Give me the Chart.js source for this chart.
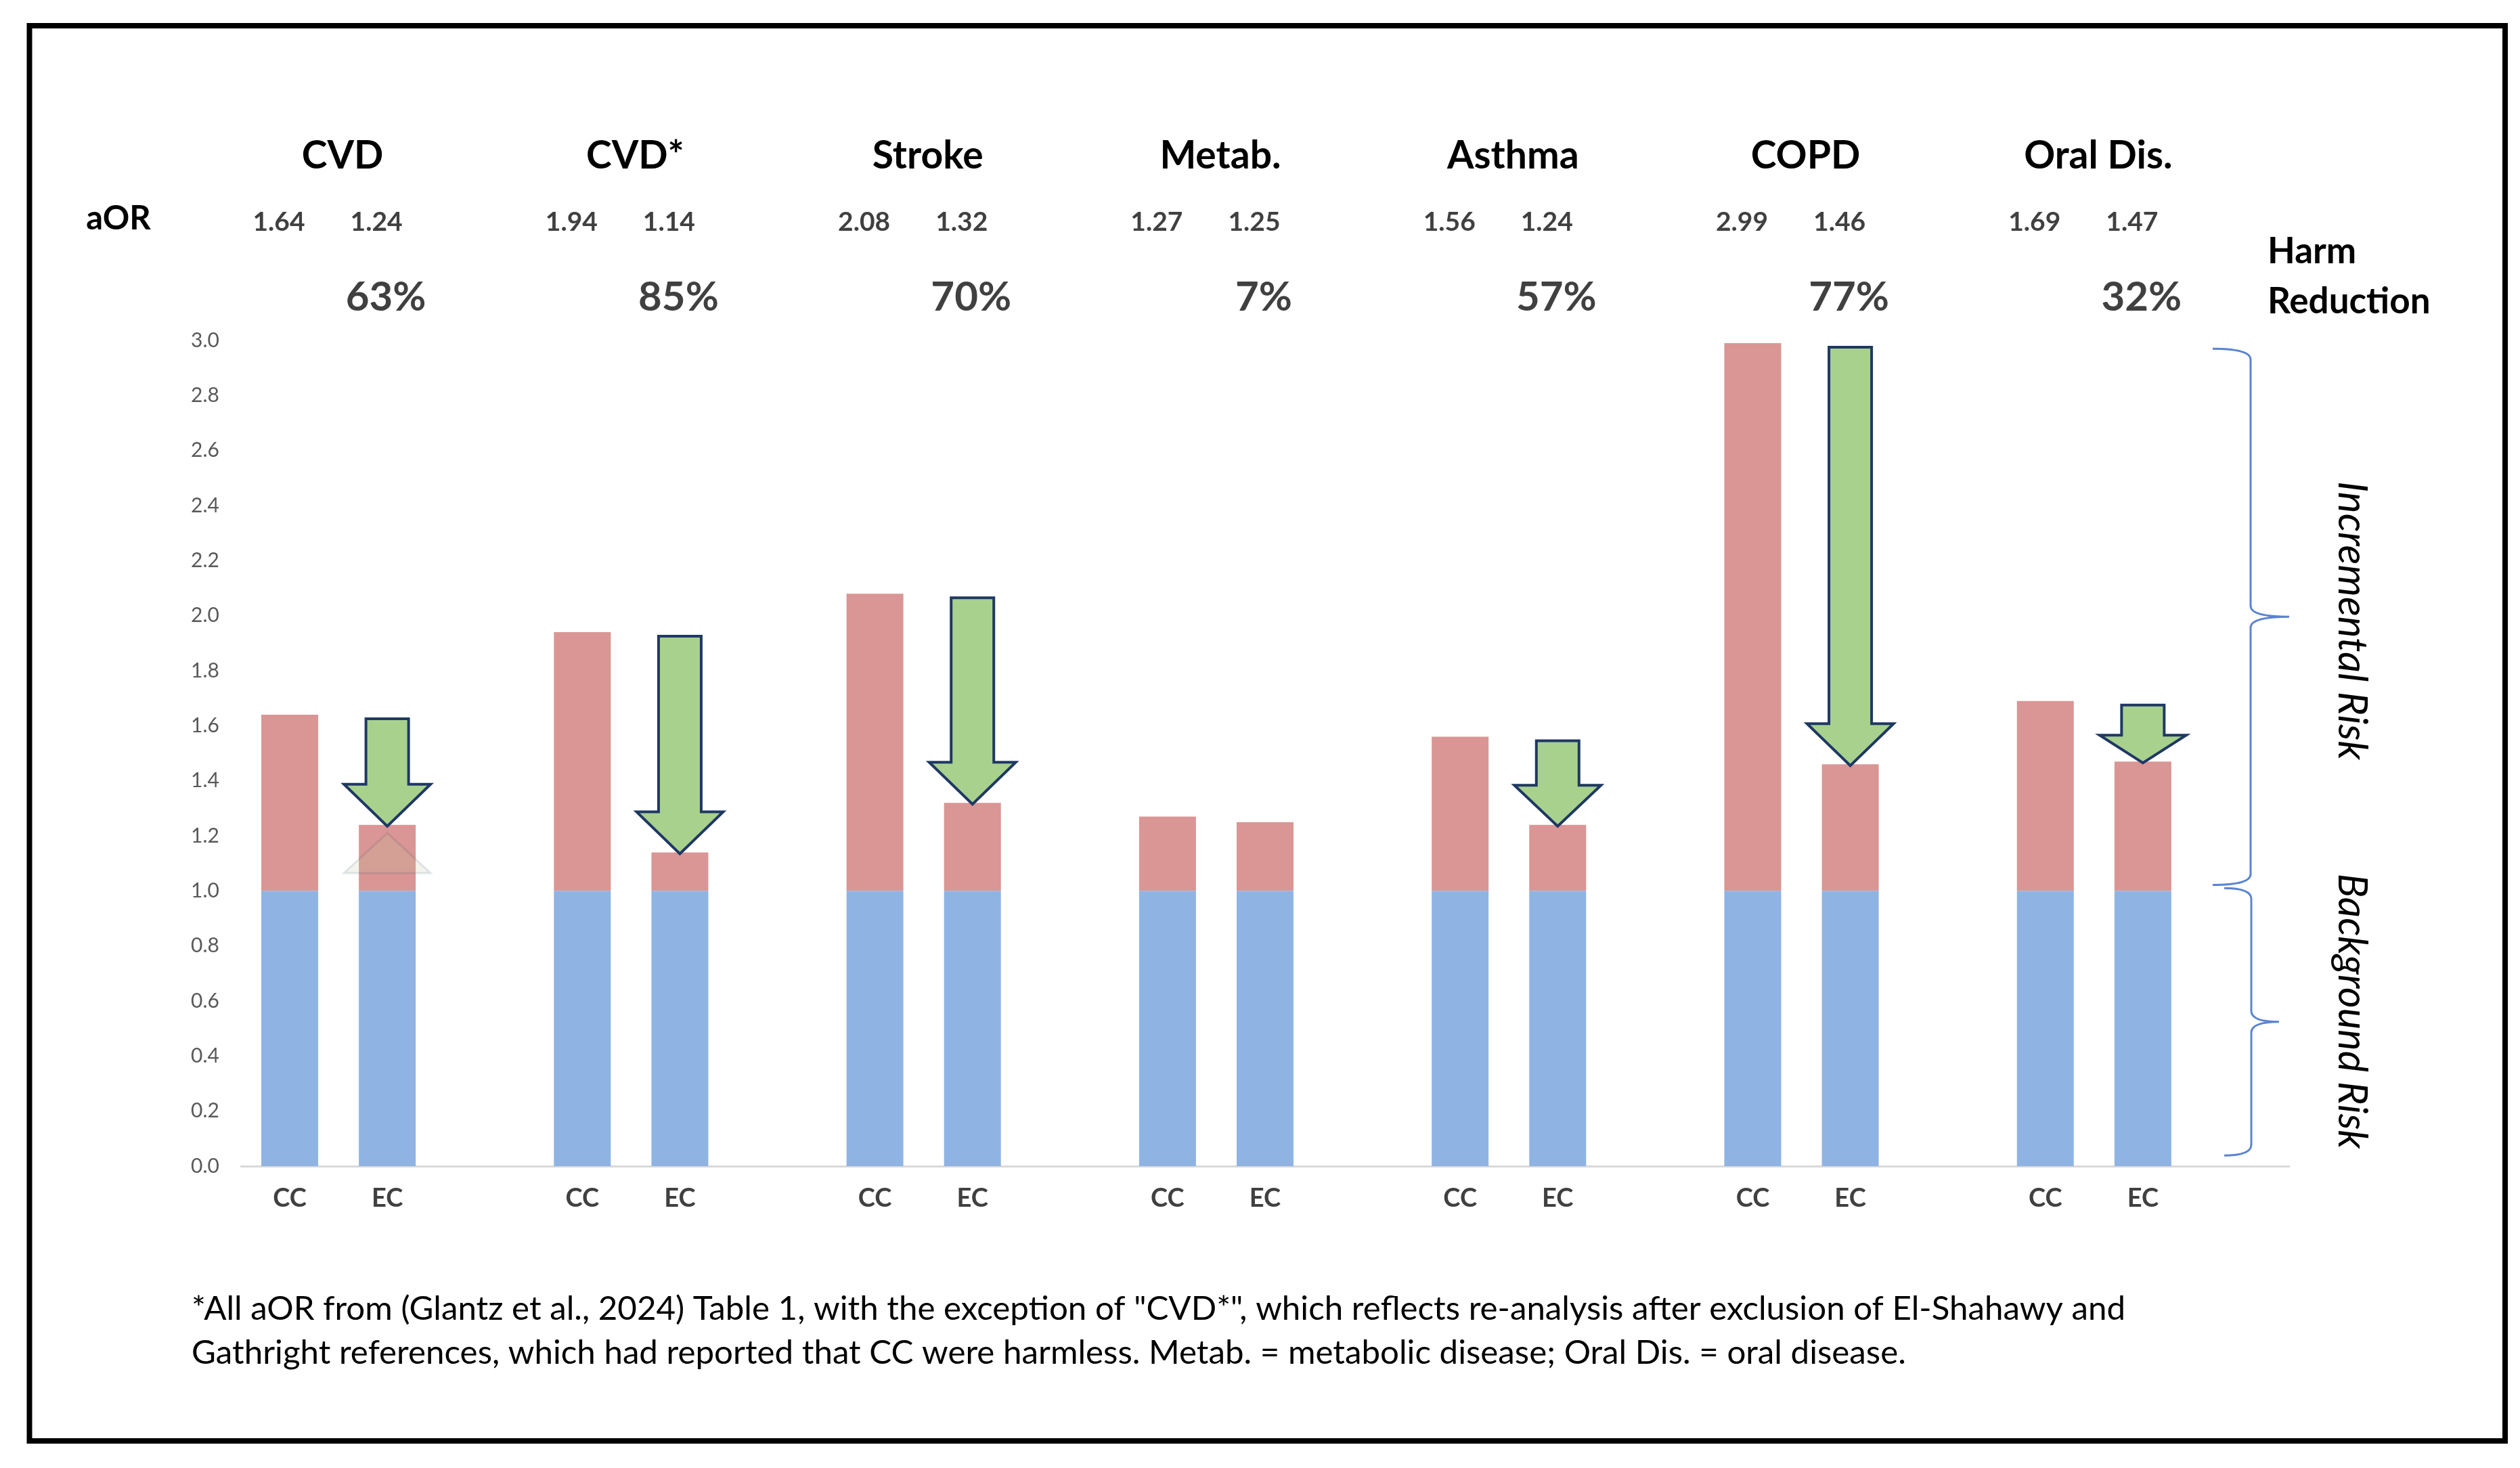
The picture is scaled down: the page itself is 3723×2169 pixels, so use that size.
<!DOCTYPE html>
<html>
<head>
<meta charset="utf-8">
<script src="https://cdn.jsdelivr.net/npm/chart.js@4.4.1/dist/chart.umd.min.js"></script>
<style>
  html, body { margin: 0; padding: 0; background: #fff; }
  canvas { display: block; }
</style>
</head>
<body>
<canvas id="riskChart" width="3723" height="2169"></canvas>
<script>
/* DATA */
const diseases = ['CVD', 'CVD*', 'Stroke', 'Metab.', 'Asthma', 'COPD', 'Oral Dis.'];
const ccAOR = [1.64, 1.94, 2.08, 1.27, 1.56, 2.99, 1.69];
const ecAOR = [1.24, 1.14, 1.32, 1.25, 1.24, 1.46, 1.47];
const harmReduction = ['63%', '85%', '70%', '7%', '57%', '77%', '32%'];
const showArrow = [true, true, true, false, true, true, true];
const productLabels = ['CC', 'EC'];
const backgroundRisk = 1.0;
const yMax = 3.0;
const yStep = 0.2;
const footnote = [
  '*All aOR from (Glantz et al., 2024) Table 1, with the exception of "CVD*", which reflects re-analysis after exclusion of El-Shahawy and',
  'Gathright references, which had reported that CC were harmless. Metab. = metabolic disease; Oral Dis. = oral disease.'
];

/* build the 21 slots: CC, EC, gap for each disease */
const labels = [], bgData = [], incData = [];
diseases.forEach((d, i) => {
  labels.push(productLabels[0], productLabels[1], '');
  bgData.push(backgroundRisk, backgroundRisk, null);
  incData.push(ccAOR[i] - backgroundRisk, ecAOR[i] - backgroundRisk, null);
});

const FONT = 'Lato, "Open Sans", sans-serif';

function fitFont(ctx, text, width, weight, style) {
  ctx.font = `${style || ''} ${weight} 100px ${FONT}`;
  const w = ctx.measureText(text).width;
  return 100 * width / w;
}

function drawArrow(ctx, cx, top, tip) {
  const len = tip - top;
  const head = Math.min(62, len * 0.48);
  const sw = 31.5, hw = 64;
  ctx.beginPath();
  ctx.moveTo(cx - sw, top);
  ctx.lineTo(cx + sw, top);
  ctx.lineTo(cx + sw, tip - head);
  ctx.lineTo(cx + hw, tip - head);
  ctx.lineTo(cx, tip);
  ctx.lineTo(cx - hw, tip - head);
  ctx.lineTo(cx - sw, tip - head);
  ctx.closePath();
  ctx.fillStyle = '#A9D18E';
  ctx.fill();
  ctx.lineWidth = 4;
  ctx.lineJoin = 'miter';
  ctx.strokeStyle = '#1F3864';
  ctx.stroke();
}

function drawBrace(ctx, x, curlX, tipX, yTop, yBot) {
  const mid = (yTop + yBot) / 2, r = 16;
  ctx.beginPath();
  ctx.moveTo(curlX, yTop);
  ctx.quadraticCurveTo(x, yTop, x, yTop + r);
  ctx.lineTo(x, mid - r);
  ctx.quadraticCurveTo(x, mid, tipX, mid);
  ctx.quadraticCurveTo(x, mid, x, mid + r);
  ctx.lineTo(x, yBot - r);
  ctx.quadraticCurveTo(x, yBot, curlX, yBot);
  ctx.strokeStyle = '#5B84D0';
  ctx.lineWidth = 3;
  ctx.stroke();
}

const decorations = {
  id: 'decorations',
  beforeDraw(chart) {
    const ctx = chart.ctx;
    ctx.save();
    ctx.fillStyle = '#fff';
    ctx.fillRect(0, 0, chart.width, chart.height);
    ctx.restore();
  },
  afterDatasetsDraw(chart) {
    const ctx = chart.ctx, y = chart.scales.y;
    const meta = chart.getDatasetMeta(1);
    ctx.save();
    // faint ghost of an up arrow on the first EC bar
    const gx = meta.data[1].x;
    ctx.beginPath();
    ctx.moveTo(gx, y.getPixelForValue(1.21));
    ctx.lineTo(gx + 64, y.getPixelForValue(1.065));
    ctx.lineTo(gx - 64, y.getPixelForValue(1.065));
    ctx.closePath();
    ctx.fillStyle = 'rgba(190,200,150,0.18)';
    ctx.fill();
    ctx.strokeStyle = 'rgba(31,56,100,0.12)';
    ctx.lineWidth = 3;
    ctx.stroke();

    diseases.forEach((d, i) => {
      if (!showArrow[i]) return;
      const cx = meta.data[i * 3 + 1].x;
      drawArrow(ctx, cx, y.getPixelForValue(ccAOR[i]) + 6, y.getPixelForValue(ecAOR[i]) + 2);
    });
    ctx.restore();
  },
  afterDraw(chart) {
    const ctx = chart.ctx, y = chart.scales.y;
    const meta = chart.getDatasetMeta(0);
    ctx.save();

    // frame
    ctx.strokeStyle = '#000';
    ctx.lineWidth = 8;
    ctx.strokeRect(43.5, 38, 3701 - 43.5, 2129 - 38);

    ctx.textAlign = 'center';
    ctx.textBaseline = 'alphabetic';
    diseases.forEach((d, i) => {
      const xc = meta.data[i * 3].x, xe = meta.data[i * 3 + 1].x;
      ctx.fillStyle = '#000';
      ctx.font = `bold 57px ${FONT}`;
      ctx.fillText(d, (xc + xe) / 2 + 6, 249);
      ctx.fillStyle = '#404040';
      ctx.font = `bold 39px ${FONT}`;
      ctx.fillText(ccAOR[i].toFixed(2), xc - 16, 341);
      ctx.fillText(ecAOR[i].toFixed(2), xe - 16, 341);
      ctx.font = `bold 60px ${FONT}`;
      ctx.fillText(harmReduction[i], xe - 2, 459);
    });

    ctx.fillStyle = '#000';
    ctx.font = `bold 49px ${FONT}`;
    ctx.fillText('aOR', 175, 339);

    ctx.textAlign = 'left';
    ctx.font = `bold 53px ${FONT}`;
    ctx.fillText('Harm', 3350, 389);
    ctx.fillText('Reduction', 3350, 463);

    // braces
    drawBrace(ctx, 3325, 3269, 3382, y.getPixelForValue(2.97), y.getPixelForValue(1.022));
    drawBrace(ctx, 3326, 3286, 3367, y.getPixelForValue(1.01), y.getPixelForValue(0.039));

    // rotated side labels
    ctx.fillStyle = '#000';
    ctx.textAlign = 'center';
    const s1 = fitFont(ctx, 'Incremental Risk', 412, 'normal', 'italic');
    ctx.save();
    ctx.translate(3455, 917);
    ctx.rotate(Math.PI / 2);
    ctx.font = `italic normal ${s1}px ${FONT}`;
    ctx.fillText('Incremental Risk', 0, 0);
    ctx.restore();
    const s2 = fitFont(ctx, 'Background Risk', 407, 'normal', 'italic');
    ctx.save();
    ctx.translate(3455, 1494);
    ctx.rotate(Math.PI / 2);
    ctx.font = `italic normal ${s2}px ${FONT}`;
    ctx.fillText('Background Risk', 0, 0);
    ctx.restore();

    // footnote
    ctx.textAlign = 'left';
    const fs = fitFont(ctx, footnote[0], 2858, 'normal');
    ctx.font = `normal ${fs}px ${FONT}`;
    ctx.fillText(footnote[0], 283, 1950);
    ctx.fillText(footnote[1], 283, 2015);

    ctx.restore();
  }
};

const ctx = document.getElementById('riskChart').getContext('2d');
const riskChart = new Chart(ctx, {
  type: 'bar',
  data: {
    labels: labels,
    datasets: [
      {
        label: 'Background Risk',
        data: bgData,
        backgroundColor: '#8FB4E3',
        borderWidth: 0
      },
      {
        label: 'Incremental Risk',
        data: incData,
        backgroundColor: '#D99694',
        borderWidth: 0
      }
    ]
  },
  options: {
    responsive: false,
    devicePixelRatio: 1,
    animation: false,
    events: [],
    layout: { padding: { top: 503, right: 341, bottom: 346, left: 0 } },
    datasets: { bar: { barPercentage: 0.583, categoryPercentage: 1.0 } },
    plugins: { legend: { display: false }, tooltip: { enabled: false } },
    scales: {
      x: {
        stacked: true,
        grid: { display: false, drawTicks: false },
        border: { display: true, color: '#D9D9D9', width: 3 },
        ticks: {
          autoSkip: false,
          maxRotation: 0,
          padding: 25,
          color: '#404040',
          font: { family: FONT, size: 38, weight: 'bold' }
        },
        afterFit: s => { s.height = 100; }
      },
      y: {
        stacked: true,
        min: 0,
        max: yMax,
        grid: { display: false, drawTicks: false },
        border: { display: false },
        ticks: {
          stepSize: yStep,
          padding: 32,
          color: '#595959',
          font: { family: FONT, size: 30 },
          callback: v => v.toFixed(1)
        },
        afterFit: s => { s.width = 356; }
      }
    }
  },
  plugins: [decorations]
});
</script>
</body>
</html>
